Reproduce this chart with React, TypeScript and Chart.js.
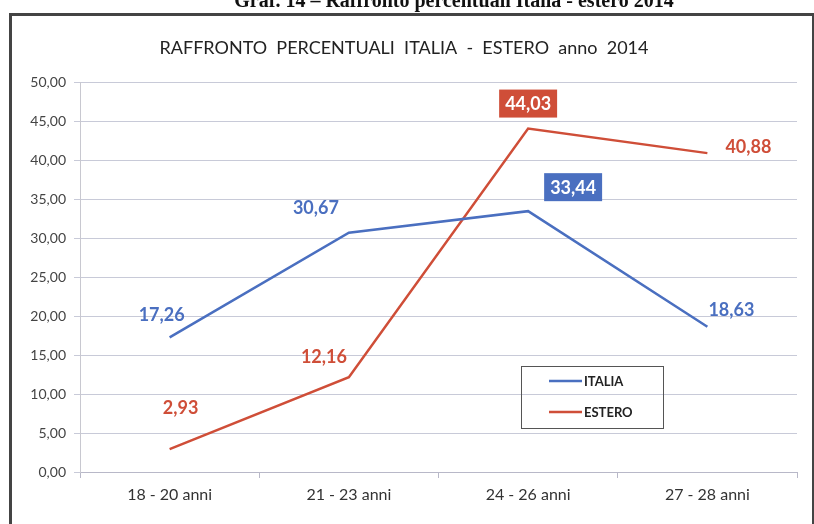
import React, { useEffect, useRef } from "react";
import { Chart, registerables } from "chart.js";

Chart.register(...registerables);

const categories = ["18 - 20 anni", "21 - 23 anni", "24 - 26 anni", "27 - 28 anni"];
const italia = [17.26, 30.67, 33.44, 18.63];
const estero = [2.93, 12.16, 44.03, 40.88];
const yTicks = [0, 5, 10, 15, 20, 25, 30, 35, 40, 45, 50];
const seriesNames = ["ITALIA", "ESTERO"];

// label placement (style only): [dx, dy, boxed]
const italiaLabelStyle: [number, number, boolean][] = [[-8, -23, false], [-33, -26, false], [45, -24, true], [24, -17, false]];
const esteroLabelStyle: [number, number, boolean][] = [[11, -42, false], [-25, -21, false], [0, -25, true], [41, -7, false]];

const BLUE = "#4a6fc0";
const RED = "#cf4e38";
const FONT = "Lato, 'Open Sans', sans-serif";

const fmt = (v: number) => v.toFixed(2).replace(".", ",");

const decorPlugin = {
  id: "decor",
  beforeDraw(chart: any) {
    const ctx = chart.ctx;
    ctx.save();
    ctx.fillStyle = "#ffffff";
    ctx.fillRect(0, 0, chart.width, chart.height);
    // header (cut)
    ctx.fillStyle = "#111";
    ctx.font = "bold 20px 'Liberation Serif', serif";
    ctx.textAlign = "center";
    ctx.textBaseline = "alphabetic";
    ctx.fillText("Graf. 14 \u2013 Raffronto percentuali Italia - estero 2014", 454, 7);
    // frame
    ctx.strokeStyle = "#444";
    ctx.lineWidth = 3;
    ctx.strokeRect(10.5, 14.5, 803, 530);
    // title
    ctx.fillStyle = "#222";
    ctx.font = `18px ${FONT}`;
    ctx.fillText("RAFFRONTO  PERCENTUALI  ITALIA  -  ESTERO  anno  2014", 404, 54);
    ctx.restore();
  },
  afterDatasetsDraw(chart: any) {
    const ctx = chart.ctx;
    ctx.save();
    ctx.font = `bold 18px ${FONT}`;
    ctx.textAlign = "center";
    ctx.textBaseline = "middle";
    const styles = [italiaLabelStyle, esteroLabelStyle];
    const colors = [BLUE, RED];
    chart.data.datasets.forEach((ds: any, di: number) => {
      const meta = chart.getDatasetMeta(di);
      meta.data.forEach((pt: any, i: number) => {
        const [dx, dy, boxed] = styles[di][i];
        const txt = fmt(ds.data[i]);
        const x = pt.x + dx;
        const y = pt.y + dy;
        if (boxed) {
          const w = ctx.measureText(txt).width + 12;
          ctx.fillStyle = colors[di];
          ctx.fillRect(x - w / 2, y - 14, w, 28);
          ctx.fillStyle = "#fff";
        } else {
          ctx.fillStyle = colors[di];
        }
        ctx.fillText(txt, x, y + 1);
      });
    });
    // legend box
    ctx.strokeStyle = "#555";
    ctx.lineWidth = 1;
    ctx.strokeRect(521.5, 366.5, 142, 62);
    ctx.font = `bold 13px ${FONT}`;
    ctx.textAlign = "left";
    seriesNames.forEach((name, i) => {
      const y = 381 + i * 31;
      ctx.strokeStyle = colors[i];
      ctx.lineWidth = 2.5;
      ctx.beginPath();
      ctx.moveTo(549, y);
      ctx.lineTo(582, y);
      ctx.stroke();
      ctx.fillStyle = "#222";
      ctx.fillText(name, 584, y + 1);
    });
    ctx.restore();
  },
};

export default function App() {
  const ref = useRef<HTMLCanvasElement | null>(null);
  useEffect(() => {
    document.body.style.margin = "0";
    const chart = new Chart(ref.current as HTMLCanvasElement, {
      type: "line",
      data: {
        labels: categories,
        datasets: [
          { label: seriesNames[0], data: italia, borderColor: BLUE, borderWidth: 2.5, pointRadius: 0, tension: 0 },
          { label: seriesNames[1], data: estero, borderColor: RED, borderWidth: 2.5, pointRadius: 0, tension: 0 },
        ],
      },
      options: {
        animation: false,
        responsive: false,
        layout: { padding: { left: 12, right: 17, top: 82, bottom: 0 } },
        plugins: { legend: { display: false }, title: { display: false }, tooltip: { enabled: false } },
        scales: {
          x: {
            offset: true,
            grid: { offset: true, drawOnChartArea: false, color: "#b8b8c8", tickLength: 6 },
            border: { color: "#b8b8c8" },
            ticks: { color: "#333", font: { family: FONT, size: 16 }, padding: 7 },
            afterFit: (s: any) => { s.height = 52; },
          },
          y: {
            min: 0,
            max: 50,
            afterBuildTicks: (s: any) => { s.ticks = yTicks.map((v) => ({ value: v })); },
            grid: { color: "#c8cad8", tickLength: 6 },
            border: { color: "#c8c8d0" },
            ticks: { color: "#444", font: { family: FONT, size: 14 }, padding: 8, callback: (v: any) => fmt(Number(v)) },
            afterFit: (s: any) => { s.width = 68; },
          },
        },
      },
      plugins: [decorPlugin],
    });
    return () => chart.destroy();
  }, []);
  return (
    <div style={{ width: 814, height: 524 }}>
      <canvas ref={ref} width={814} height={524} style={{ display: "block" }} />
    </div>
  );
}
